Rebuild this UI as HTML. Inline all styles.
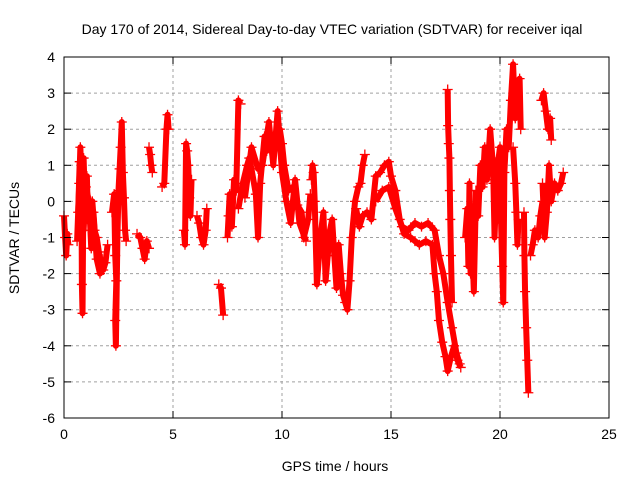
<!DOCTYPE html>
<html><head><meta charset="utf-8"><style>
html,body{margin:0;padding:0;background:#fff;width:640px;height:480px;overflow:hidden}
svg text{font-family:"Liberation Sans",sans-serif;font-size:14px;fill:#000}
</style></head><body>
<svg id="chart" width="640" height="480" viewBox="0 0 640 480">
<text x="332" y="34" text-anchor="middle">Day 170 of 2014, Sidereal Day-to-day VTEC variation (SDTVAR) for receiver iqal</text>
<text x="335" y="471" text-anchor="middle">GPS time / hours</text>
<text transform="translate(19,238) rotate(-90)" text-anchor="middle">SDTVAR / TECUs</text>
<g id="grid"></g>
<g id="marks"></g>
<rect x="64" y="57" width="545" height="361" fill="none" stroke="#000" stroke-width="1"/>
<g id="ticks"></g>
</svg>
<script>
const xTicks=[0,5,10,15,20,25];
const yTicks=[-6,-5,-4,-3,-2,-1,0,1,2,3,4];
const tracks=[
[[0.0,-0.4],[0.05,-1.0],[0.1,-1.5],[0.15,-0.9],[0.2,-1.2]],
[[0.6,-1.1],[0.7,0.5],[0.75,1.5],[0.8,0.6],[0.82,-2.3],[0.85,-3.1],[0.9,1.2],[0.95,0.2],[1.0,-0.2],[1.05,0.7],[1.1,-0.5],[1.2,-0.6],[1.3,0.0],[1.4,-0.8],[1.5,-1.0],[1.6,-1.4],[1.7,-1.7],[1.8,-1.9],[1.9,-1.7],[2.0,-1.2]],
[[0.65,-0.3],[0.72,1.1],[0.78,0.2],[0.9,-0.8],[1.0,0.4],[1.15,0.0],[1.25,-1.3],[1.35,-0.3],[1.5,-1.6],[1.65,-2.0],[1.75,-1.6]],
[[2.2,-0.3],[2.3,0.2],[2.35,-1.5],[2.4,-2.2],[2.35,-3.3],[2.38,-4.0],[2.45,-1.0],[2.5,0.3],[2.55,0.9],[2.6,1.5],[2.65,2.2],[2.7,0.8],[2.75,0.1],[2.8,-0.8],[2.85,-1.1]],
[[3.35,-0.9],[3.5,-1.0],[3.6,-1.3],[3.7,-1.6],[3.8,-1.1],[3.9,-1.3]],
[[3.9,1.5],[3.95,1.3],[4.0,1.0],[4.05,0.8]],
[[4.5,0.4],[4.6,0.5],[4.7,2.0],[4.75,2.4],[4.8,2.0]],
[[5.5,-0.8],[5.55,-1.2],[5.6,1.6],[5.65,1.4],[5.7,1.0],[5.75,0.1],[5.8,-0.4],[5.85,0.6]],
[[6.1,-0.4],[6.2,-0.6],[6.3,-1.0],[6.4,-1.2],[6.5,-0.8],[6.55,-0.2]],
[[7.1,-2.3],[7.2,-2.4],[7.3,-3.15]],
[[7.5,-1.0],[7.55,-0.4],[7.6,0.2],[7.7,-0.7],[7.8,0.6],[7.9,0.3],[8.0,2.8],[8.1,2.7]],
[[8.0,-0.2],[8.2,0.5],[8.4,1.0],[8.5,1.2],[8.6,0.9],[8.8,0.2],[8.9,-1.0],[9.0,0.5],[9.2,1.8],[9.3,1.4],[9.5,1.7],[9.7,1.5],[9.9,2.0],[10.0,1.6],[10.1,1.0],[10.3,0.3],[10.5,0.4],[10.7,-0.1],[10.9,-0.3],[11.0,-1.0],[11.2,-0.5],[11.3,0.2]],
[[8.3,0.1],[8.6,1.5],[8.9,0.9],[9.1,1.0],[9.4,2.2],[9.6,1.0],[9.8,2.5],[10.0,0.8],[10.2,0.0],[10.4,-0.6],[10.6,0.6],[10.8,-0.6],[11.1,-1.1]],
[[11.35,0.6],[11.4,1.0],[11.45,0.8],[11.5,0.0],[11.6,-2.3],[11.7,-1.5],[11.8,-0.8],[11.9,-0.3],[12.0,-2.2],[12.1,-1.5],[12.2,-0.8],[12.3,-0.5],[12.4,-1.5],[12.5,-2.4],[12.6,-1.2],[12.7,-2.0],[12.8,-2.6],[12.9,-2.8],[13.0,-3.0],[13.1,-2.2],[13.2,-1.0],[13.35,0.0],[13.5,0.4],[13.6,0.5],[13.7,1.0],[13.8,1.3]],
[[13.4,-0.2],[13.55,-0.7],[13.7,-0.4],[13.9,-0.3],[14.1,-0.5],[14.3,0.7],[14.5,0.8],[14.7,1.0],[14.9,1.1],[15.0,0.7],[15.2,0.3],[15.4,-0.5],[15.6,-0.9],[15.9,-1.0],[16.1,-1.1],[16.3,-1.2],[16.6,-1.1],[16.9,-1.2],[17.0,-2.0],[17.1,-2.5],[17.2,-3.3],[17.35,-3.9],[17.5,-4.3],[17.6,-4.7],[17.75,-4.3],[17.9,-4.0],[18.05,-4.4],[18.2,-4.6]],
[[14.3,0.0],[14.6,0.3],[14.9,0.4],[15.2,-0.2],[15.5,-0.7],[15.8,-0.8],[16.1,-0.6],[16.4,-0.7],[16.7,-0.6],[17.0,-0.8],[17.2,-1.5],[17.4,-2.0],[17.6,-2.8],[17.8,-3.5],[18.0,-4.2],[18.15,-4.5]],
[[17.6,3.1],[17.62,2.1],[17.65,1.6],[17.68,1.2],[17.7,0.3],[17.72,-0.5],[17.75,-1.5],[17.8,-2.8]],
[[18.4,-1.0],[18.5,-0.2],[18.55,-1.8],[18.6,0.5],[18.65,-2.0],[18.7,-0.8],[18.8,-2.5],[18.9,0.3]],
[[18.9,0.3],[19.0,-0.4],[19.1,1.0],[19.2,0.4],[19.3,1.5],[19.4,0.6],[19.55,2.0],[19.65,1.2],[19.7,0.5],[19.75,-1.0],[19.85,0.8],[20.0,1.5],[20.05,-0.6],[20.1,-1.8],[20.15,-2.8],[20.2,0.8],[20.3,2.0],[20.4,1.5],[20.5,2.8],[20.6,3.8],[20.7,2.3],[20.8,3.3],[20.9,3.4],[20.95,2.0]],
[[20.6,1.5],[20.7,0.5],[20.75,-0.3],[20.8,-1.2],[20.85,-0.5]],
[[21.1,-0.3],[21.12,-1.5],[21.15,-2.5],[21.2,-3.5],[21.25,-4.4],[21.3,-5.3]],
[[21.4,-1.5],[21.5,-1.2],[21.6,-0.8],[21.75,-1.0],[21.85,-0.4],[21.95,0.0]],
[[21.9,2.8],[22.0,3.0],[22.1,2.5],[22.2,2.0],[22.3,2.3],[22.35,1.7]],
[[21.95,0.5],[22.05,-1.0],[22.15,-0.3],[22.25,1.0],[22.35,0.0],[22.5,0.5],[22.65,0.3],[22.8,0.5],[22.9,0.8]]
];
const X0=64,X1=609,Y0=418,Y1=57;
const xs=t=>X0+(t-0)/(25-0)*(X1-X0);
const ys=v=>Y0-(v+6)/(10)*(Y0-Y1);
const NS='http://www.w3.org/2000/svg';
const grid=document.getElementById('grid'),ticks=document.getElementById('ticks'),marks=document.getElementById('marks');
function mk(tag,attrs,parent){const e=document.createElementNS(NS,tag);for(const k in attrs)e.setAttribute(k,attrs[k]);parent.appendChild(e);return e;}
xTicks.forEach(t=>{const x=xs(t);
 if(t>0&&t<25){const g=mk('line',{x1:x,x2:x,y1:Y1,y2:Y0,stroke:'#a0a0a0','stroke-dasharray':'3,3'},grid);
 
 }
 mk('line',{x1:x,x2:x,y1:Y0,y2:Y0-7,stroke:'#000'},ticks);
 mk('line',{x1:x,x2:x,y1:Y1,y2:Y1+7,stroke:'#000'},ticks);
 const l=mk('text',{x:x,y:Y0+21,'text-anchor':'middle'},ticks);l.textContent=t;
 
 
});
yTicks.forEach(v=>{const y=ys(v);
 if(v>-6&&v<4){const g=mk('line',{x1:X0,x2:X1,y1:y,y2:y,stroke:'#a0a0a0','stroke-dasharray':'3,3'},grid);
 
 }
 mk('line',{x1:X0,x2:X0+7,y1:y,y2:y,stroke:'#000'},ticks);
 mk('line',{x1:X1,x2:X1-7,y1:y,y2:y,stroke:'#000'},ticks);
 const l=mk('text',{x:X0-9,y:y+5,'text-anchor':'end'},ticks);l.textContent=v;
 
 
});
tracks.forEach(tr=>{
 const p=mk('polyline',{points:tr.map(d=>xs(d[0])+','+ys(d[1])).join(' '),fill:'none',stroke:'#f00','stroke-width':6,'stroke-linejoin':'round'},marks);
 
 
 tr.forEach(d=>{const x=xs(d[0]),y=ys(d[1]);
  const m=mk('path',{d:`M${x-5},${y}H${x+5}M${x},${y-5}V${y+5}`,stroke:'#f00','stroke-width':1.3},marks);
  
  
 });
});
</script>
</body></html>
